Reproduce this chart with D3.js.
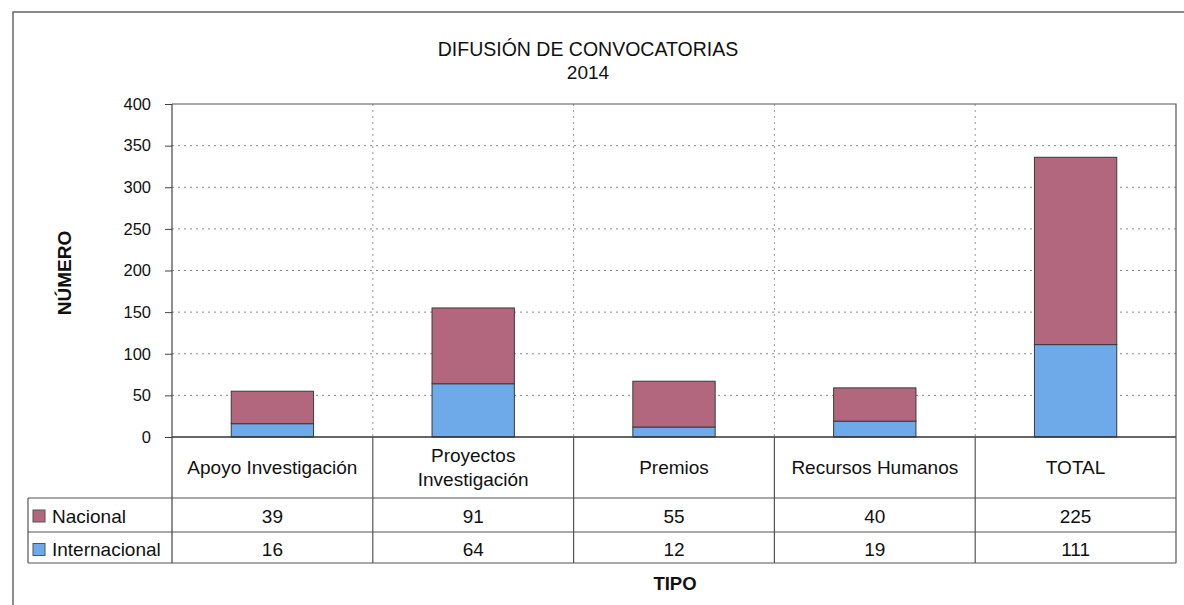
<!DOCTYPE html>
<html lang="es">
<head>
<meta charset="utf-8">
<title>Difusión de convocatorias 2014</title>
<script src="https://cdn.jsdelivr.net/npm/d3@7"></script>
<style>
  body { margin: 0; background: #fff; }
  text { font-family: "Liberation Sans", Arial, sans-serif; fill: #111; }
</style>
</head>
<body>
<script>
// data
var categories = ["Apoyo Investigación", "Proyectos Investigación", "Premios", "Recursos Humanos", "TOTAL"];
var nacional = [39, 91, 55, 40, 225];
var internacional = [16, 64, 12, 19, 111];
var seriesNames = ["Nacional", "Internacional"];
var seriesColors = ["#b3677f", "#6eaaea"];
var yTicks = [0, 50, 100, 150, 200, 250, 300, 350, 400];

var w = 1184, h = 605;
var plotLeft = 172, plotRight = 1176, plotTop = 104, base = 437;
var rowH = [61, 34, 31];   // header row, Nacional row, Internacional row
var legendLeft = 28;

var svg = d3.select("body").append("svg")
    .attr("width", w)
    .attr("height", h);

// outer chart frame (only left and top edges show)
svg.append("rect")
    .attr("x", 13).attr("y", 12)
    .attr("width", 1300).attr("height", 800)
    .attr("fill", "none").attr("stroke", "#666").attr("stroke-width", 1.5);

var x = d3.scaleBand().domain(categories).range([plotLeft, plotRight]).padding(0);
var y = d3.scaleLinear().domain([0, 400]).range([base, plotTop]);
var barW = x.bandwidth() * 0.41;

// title
svg.append("text").attr("x", 588).attr("y", 56)
    .attr("text-anchor", "middle").style("font-size", "19.5px")
    .text("DIFUSIÓN DE CONVOCATORIAS");
svg.append("text").attr("x", 588).attr("y", 79)
    .attr("text-anchor", "middle").style("font-size", "19px")
    .text("2014");

// gridlines
svg.append("g").selectAll("line.hgrid")
    .data(yTicks.filter(function(d) { return d > 0 && d < 400; }))
  .enter().append("line")
    .attr("class", "hgrid")
    .attr("x1", plotLeft).attr("x2", plotRight)
    .attr("y1", function(d) { return y(d); })
    .attr("y2", function(d) { return y(d); })
    .attr("stroke", "#555").attr("stroke-dasharray", "2,4").attr("stroke-opacity", 0.7);

svg.append("g").selectAll("line.vgrid")
    .data(categories.slice(1))
  .enter().append("line")
    .attr("class", "vgrid")
    .attr("x1", function(d) { return x(d); })
    .attr("x2", function(d) { return x(d); })
    .attr("y1", plotTop).attr("y2", base)
    .attr("stroke", "#555").attr("stroke-dasharray", "2,4").attr("stroke-opacity", 0.6);

// plot area border (top and right)
svg.append("path")
    .attr("d", "M" + plotLeft + "," + plotTop + "H" + plotRight + "V" + base)
    .attr("fill", "none").attr("stroke", "#555").attr("stroke-width", 1.2);

// stacked bars
var stackData = categories.map(function(c, i) {
  return { cat: c, Nacional: nacional[i], Internacional: internacional[i] };
});
var stack = d3.stack().keys(["Internacional", "Nacional"]);
var layers = stack(stackData);

svg.append("g").selectAll("g")
    .data(layers)
  .enter().append("g")
    .attr("fill", function(d) { return d.key == "Nacional" ? seriesColors[0] : seriesColors[1]; })
  .selectAll("rect")
    .data(function(d) { return d; })
  .enter().append("rect")
    .attr("x", function(d) { return x(d.data.cat) + (x.bandwidth() - barW) / 2; })
    .attr("y", function(d) { return y(d[1]); })
    .attr("width", barW)
    .attr("height", function(d) { return y(d[0]) - y(d[1]); })
    .attr("stroke", "#3a3a3a").attr("stroke-width", 1);

// y axis
var yAxis = d3.axisLeft(y).tickValues(yTicks).tickSize(7).tickPadding(14);
var gy = svg.append("g").attr("transform", "translate(" + plotLeft + ",0)").call(yAxis);
gy.select(".domain").remove();
gy.selectAll(".tick line").attr("stroke", "#444");
gy.selectAll(".tick text").style("font-size", "16.5px").attr("fill", "#111")
    .style("font-family", "'Liberation Sans', Arial, sans-serif");

svg.append("text")
    .attr("transform", "translate(71,273) rotate(-90)")
    .attr("text-anchor", "middle").style("font-size", "19px").style("font-weight", "bold")
    .text("NÚMERO");

// data table
var r1 = base + rowH[0], r2 = r1 + rowH[1], r3 = r2 + rowH[2];
var tbl = svg.append("g").attr("stroke", "#555").attr("stroke-width", 1.2);
tbl.append("line").attr("x1", plotLeft).attr("x2", plotRight).attr("y1", base).attr("y2", base).attr("stroke", "#333").attr("stroke-width", 1.6);
[r1, r2, r3].forEach(function(ry) {
  tbl.append("line").attr("x1", legendLeft).attr("x2", plotRight).attr("y1", ry).attr("y2", ry);
});
tbl.append("line").attr("x1", plotLeft).attr("x2", plotLeft).attr("y1", plotTop).attr("y2", r3).attr("stroke", "#444");
tbl.append("line").attr("x1", legendLeft).attr("x2", legendLeft).attr("y1", r1).attr("y2", r3);
tbl.append("line").attr("x1", plotRight).attr("x2", plotRight).attr("y1", base).attr("y2", r3);
categories.slice(1).forEach(function(c) {
  tbl.append("line").attr("x1", x(c)).attr("x2", x(c)).attr("y1", base).attr("y2", r3);
});

// category labels (the long one wraps onto two lines as in the original)
var catLines = { "Proyectos Investigación": ["Proyectos", "Investigación"] };
categories.forEach(function(c) {
  var lines = catLines[c] || [c];
  var cx = x(c) + x.bandwidth() / 2;
  var cy = base + rowH[0] / 2;
  lines.forEach(function(l, k) {
    svg.append("text")
        .attr("x", cx)
        .attr("y", cy + (k - (lines.length - 1) / 2) * 24)
        .attr("dy", "0.35em")
        .attr("text-anchor", "middle").style("font-size", "19px")
        .text(l);
  });
});

// value rows with legend keys
[nacional, internacional].forEach(function(vals, s) {
  var cy = s == 0 ? (r1 + r2) / 2 + 1 : (r2 + r3) / 2 + 2;
  svg.append("rect")
      .attr("x", 33).attr("y", cy - 6).attr("width", 12).attr("height", 12)
      .attr("fill", seriesColors[s]).attr("stroke", "#555");
  svg.append("text").attr("x", 52).attr("y", cy).attr("dy", "0.35em")
      .style("font-size", "19px").text(seriesNames[s]);
  vals.forEach(function(v, i) {
    svg.append("text")
        .attr("x", x(categories[i]) + x.bandwidth() / 2)
        .attr("y", cy).attr("dy", "0.35em")
        .attr("text-anchor", "middle").style("font-size", "19px")
        .text(v);
  });
});

svg.append("text").attr("x", 675).attr("y", 590)
    .attr("text-anchor", "middle").style("font-size", "18.5px").style("font-weight", "bold")
    .text("TIPO");
</script>
</body>
</html>
